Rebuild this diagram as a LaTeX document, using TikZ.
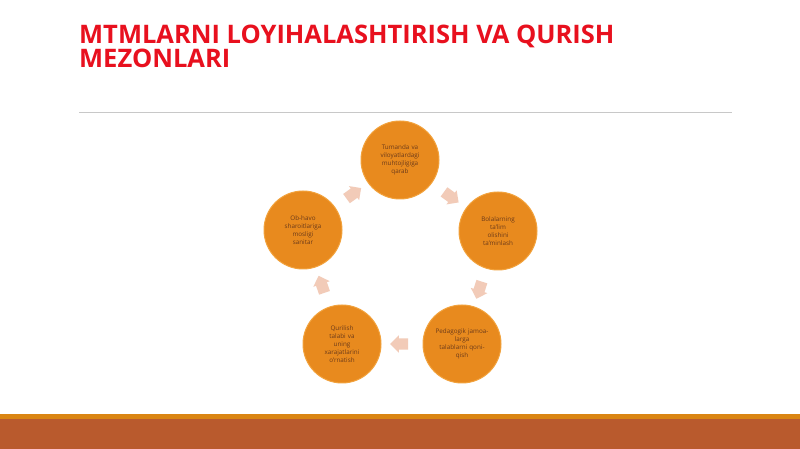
\documentclass[tikz,border=0pt]{standalone}
\usepackage{fontspec}
\setmainfont{Open Sans}
\usetikzlibrary{shapes.arrows}
\definecolor{titlered}{HTML}{E8101E}
\definecolor{circfill}{HTML}{E88A1E}
\definecolor{circline}{HTML}{F2A23C}
\definecolor{circtext}{HTML}{6B3A1A}
\definecolor{arrowfill}{HTML}{F2CBB8}
\definecolor{stripe}{HTML}{DA8512}
\definecolor{band}{HTML}{B95A2D}
\definecolor{rule}{HTML}{C8C8C8}
\tikzset{
  cyclestep/.style={circle, fill=circfill, draw=circline, line width=1pt, minimum size=78pt, inner sep=0pt,
    text width=60pt, align=center, font=\fontsize{6.3}{8}\selectfont, text=circtext},
  cyclearrow/.style={single arrow, fill=arrowfill, draw=none, minimum height=18pt, minimum width=17pt,
    single arrow head extend=3pt, inner xsep=0pt, inner ysep=5.5pt, sloped, allow upside down},
  titletext/.style={anchor=base west, inner sep=0pt, text=titlered, font=\fontsize{25.5}{25}\bfseries\selectfont}
}
\begin{document}
\begin{tikzpicture}[x=1pt,y=1pt]
\useasboundingbox (0,0) rectangle (800,449);
\fill[white] (0,0) rectangle (800,449);
% title
\node[titletext] (t1) at (79,405) {MTMLARNI LOYIHALASHTIRISH VA QURISH};
\node[titletext] (t2) at (79,381) {MEZONLARI};
\draw[rule, line width=1pt] (79,336) -- (732,336);
% bottom bands
\fill[band] (0,0) rectangle (800,30);
\fill[stripe] (0,30) rectangle (800,35);
% circles
\node[cyclestep] (c1) at (400,289) {Tumanda va\\viloyatlardagi\\muhtojligiga\\qarab};
\node[cyclestep] (c2) at (498,218) {Bolalarning\\ta'lim\\olishini\\ta'minlash};
\node[cyclestep] (c3) at (462,105) {Pedagogik jamoa-\\larga\\talablarni qoni-\\qish};
\node[cyclestep] (c4) at (342,105) {Qurilish\\talabi va\\uning\\xarajatlarini\\o'rnatish};
\node[cyclestep] (c5) at (303,219) {Ob-havo\\sharoitlariga\\mosligi\\sanitar};
% arrows
\path (c1.center) -- (c2.center) node[midway, cyclearrow] (a1) {};
\path (c2.center) -- (c3.center) node[midway, cyclearrow] (a2) {};
\path (c3.center) -- (c4.center) node[midway, cyclearrow] (a3) {};
\path (c4.center) -- (c5.center) node[midway, cyclearrow] (a4) {};
\path (c5.center) -- (c1.center) node[midway, cyclearrow] (a5) {};
\end{tikzpicture}
\end{document}
